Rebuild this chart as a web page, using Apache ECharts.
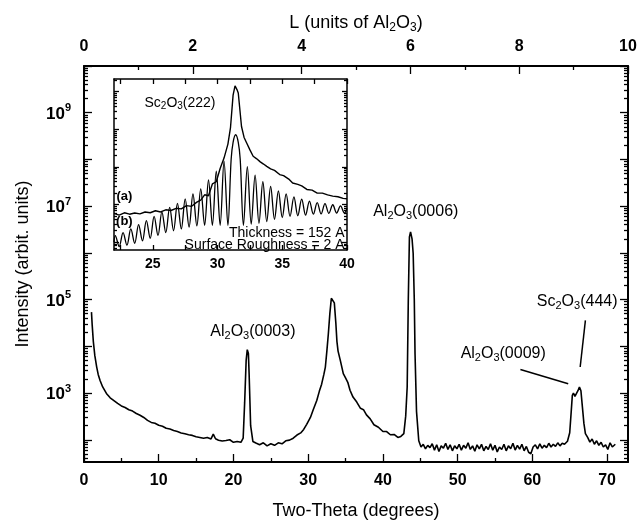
<!DOCTYPE html>
<html><head><meta charset="utf-8">
<script src="https://cdn.jsdelivr.net/npm/echarts@6/dist/echarts.min.js"></script>
<style>html,body{margin:0;padding:0;background:#fff}#c{width:642px;height:529px}</style>
</head><body><div id="c"></div>
<script>
// ---------- main scan ----------
const twoTheta = [
 1.0,1.1,1.25,1.45,1.7,1.9,2.15,2.5,3.0,3.5,
 4.0,4.5,5.0,5.5,6.0,6.5,7.0,7.5,8.0,8.5,
 9.0,9.5,10.0,10.5,11.0,11.5,12.0,12.5,13.0,13.5,
 14.0,14.5,15.0,15.5,16.0,16.5,17.0,17.3,17.6,18.0,
 18.5,19.0,19.5,20.0,20.5,21.0,
 21.3,21.5,21.7,21.85,22.0,22.1,22.3,22.6,23.0,23.5,
 24.0,24.5,25.0,25.5,26.0,26.5,27.0,27.5,28.0,28.5,
 29.0,29.4,29.8,30.3,30.7,31.15,31.5,31.8,32.1,32.3,
 32.5,32.7,32.9,33.1,33.3,33.5,33.7,33.85,34.0,34.3,
 34.7,35.0,35.3,35.6,36.0,36.5,37.0,37.4,37.8,38.3,
 38.8,39.4,40.0,40.5,41.0,41.5,42.0,42.4,42.8,43.05,
 43.25,43.4,43.55,43.7,43.9,44.05,44.2,44.3,44.5,44.8,
 45.1,45.4,45.7,46.0,46.3,46.6,46.9,47.2,47.5,47.8,
 48.1,48.4,48.7,49.0,49.3,49.6,49.9,50.2,50.5,50.8,
 51.1,51.4,51.7,52.0,52.3,52.6,52.9,53.2,53.5,53.8,
 54.1,54.4,54.7,55.0,55.3,55.6,55.9,56.2,56.5,56.8,
 57.1,57.4,57.7,58.0,58.3,58.6,58.9,59.2,59.5,59.8,
 60.1,60.4,60.7,61.0,61.3,61.6,61.9,62.2,62.5,62.8,
 63.1,63.4,63.7,64.0,64.3,64.7,
 65.0,65.2,65.35,65.5,65.7,65.9,66.1,66.3,66.5,66.7,
 66.9,67.1,67.4,67.7,68.0,68.3,68.6,68.9,69.2,69.5,
 69.8,70.1,70.4,70.7,71.1
];
const intensity = [
 54000,28000,12600,6300,3600,2500,1860,1350,980,790,
 690,600,530,490,440,410,365,335,300,260,
 235,225,205,195,176,170,158,150,140,134,
 128,124,116,112,108,112,104,132,105,98,
 94,96,100,88,92,88,
 108,630,5000,8500,7000,2500,200,92,85,78,
 86,74,82,76,86,82,95,98,108,126,
 140,166,214,300,450,690,1100,1550,2500,3600,
 7900,18600,50000,107000,112000,85000,32000,12600,7900,5000,
 2600,2100,1700,1150,820,640,470,440,340,280,
 210,185,150,150,128,130,112,118,135,320,
 1350,100000,2200000,2800000,2000000,980000,100000,6900,400,95,
 70,80,64,76,68,82,60,78,56,74,
 66,84,62,78,58,74,64,80,60,76,
 66,86,62,74,57,78,64,80,58,72,
 62,82,60,76,55,70,62,80,58,74,
 64,84,60,76,63,80,58,72,54,50,
 70,78,64,82,66,76,68,84,70,80,
 72,86,74,84,80,93,
 141,400,890,1000,850,780,1120,1350,1120,500,
 224,135,112,89,104,80,95,76,88,70,
 78,62,86,70,80
];

// ---------- inset: curve (a) measured ----------
const insetThetaA = [
 22.0,22.4,22.8,23.2,23.6,24.0,24.4,24.8,25.2,25.6,
 26.0,26.4,26.8,27.2,27.6,28.0,28.4,28.7,29.0,29.3,
 29.6,29.9,30.2,30.5,30.8,31.0,31.2,31.35,31.5,31.6,
 31.85,32.05,32.25,32.5,32.75,33.0,33.3,33.55,33.8,34.1,
 34.4,34.8,35.1,35.5,35.8,36.2,36.5,36.9,37.3,37.7,
 38.1,38.5,38.9,39.3,39.7,40.0
];
const insetIntA = [
 5.8,5.2,6.0,5.5,5.9,5.6,6.3,6.0,6.8,6.3,
 7.2,6.9,7.9,7.6,9.3,8.9,11.5,13,18,17,
 35,40,90,170,400,1100,8000,14100,11200,9100,
 1170,600,427,280,190,165,135,118,102,88,
 80,62,58,47,37,34,31,25,24,20,
 20,18,16.6,16,14.5,14.1
];

// ---------- inset: curve (b) simulation ----------
const insetThetaB = [
 22.0,22.1,22.4,22.7,23.0,23.3,23.6,23.9,24.2,24.5,
 24.8,25.1,25.4,25.7,26.0,26.3,26.6,26.9,27.2,27.5,
 27.8,28.1,28.4,28.7,29.0,29.3,29.6,29.9,30.2,30.5,
 30.8,31.05,31.2,31.4,31.6,31.75,32.0,32.3,32.6,32.9,
 33.2,33.5,33.8,34.1,34.4,34.7,35.0,35.3,35.6,35.9,
 36.2,36.5,36.8,37.1,37.4,37.7,38.0,38.3,38.6,38.9,
 39.2,39.5,39.8,40.0
];
const insetIntB = [
 1.0,1.48,0.76,1.78,0.83,2.24,0.93,2.9,1.07,3.7,
 1.26,4.8,1.5,6.3,1.78,8.3,2.0,10.7,2.24,14.1,
 2.5,19,2.7,26,2.8,45,2.8,76,2.8,141,
 2.8,158,447,708,447,158,2.8,100,3.0,60,
 3.16,40,3.5,30,4.0,23,4.5,19,4.8,15.8,
 5.0,13.8,5.2,12.3,5.5,11.2,5.6,10.5,5.8,9.8,
 5.9,9.1,5.9,7.9
];

// ---------- tick labels ----------
const xTickLabels = [0,10,20,30,40,50,60,70];
const xMinorTicks = [5,15,25,35,45,55,65];
const lTickLabels = [0,2,4,6,8,10];
const yLabelPowers = [3,5,7,9];
const yMajorPowers = [2,3,4,5,6,7,8,9,10];
const insetXLabels = [25,30,35,40];
const insetXTicks = [22.5,25,27.5,30,32.5,35,37.5,40];
const insetYMajorPowers = [0,1,2,3,4];

// annotations
const peakLabels = [
 {text:'Al{s|2}O{s|3}(0003)', x:22.6, y:2.1e4},
 {text:'Al{s|2}O{s|3}(0006)', x:44.4, y:7.8e6},
 {text:'Sc{s|2}O{s|3}(444)', x:66.0, y:9.2e4},
 {text:'Al{s|2}O{s|3}(0009)', x:56.1, y:7.1e3}
];
const arrows = [
 [[58.4,3200],[64.8,1580]],
 [[67.1,3.6e4],[66.4,3.6e3]]
];

const FF = 'Liberation Sans';
const black = '#000';

// main / inset intensity ranges (log axes); tick-only axes live in exponent space
const yMinMain = 33.4, yMaxMain = 1e10;
const yMinIn = 0.616, yMaxIn = 21400;
const eMinMain = Math.log10(yMinMain), eMaxMain = Math.log10(yMaxMain);
const eMinIn = Math.log10(yMinIn), eMaxIn = Math.log10(yMaxIn);
function minorExps(p0, p1, lo, hi){
  const out=[];
  for(let p=p0; p<p1; p++){ for(let k=2;k<=9;k++){ const e=p+Math.log10(k); if(e>lo && e<hi) out.push(e); } }
  return out;
}
const yMinorExps = minorExps(1,10,eMinMain,eMaxMain);
const insetMinorExps = minorExps(-1,5,eMinIn,eMaxIn);

const subRich = {s:{fontSize:11,lineHeight:11,verticalAlign:'bottom',fontFamily:FF,color:black}};

function tickAxis(base, ticks, len, showLine, lineW){
  return Object.assign({
    type:'value', splitLine:{show:false},
    axisLine:{show:showLine, onZero:false, lineStyle:{color:black,width:lineW||2}},
    axisTick:{show:true, inside:true, length:len, customValues:ticks, lineStyle:{color:black,width:1.3}},
    axisLabel:{show:false}
  }, base);
}

const chart = echarts.init(document.getElementById('c'), null, {renderer:'canvas'});
const option = {
  animation:false,
  backgroundColor:'#fff',
  grid:[
    {left:84, top:66, width:544, height:396, show:false},
    {left:114, top:79, width:233, height:171, show:true, backgroundColor:'#fff', borderWidth:0, z:5}
  ],
  xAxis:[
    Object.assign(tickAxis({gridIndex:0, position:'bottom', min:0, max:72.8}, xTickLabels, 8, true, 2), {
      axisLabel:{show:true, customValues:xTickLabels, fontSize:16, fontWeight:'bold', fontFamily:FF, color:black, margin:11},
      name:'Two-Theta (degrees)', nameLocation:'middle', nameGap:40,
      nameTextStyle:{fontSize:18, fontFamily:FF, color:black}
    }),
    tickAxis({gridIndex:0, position:'bottom', min:0, max:72.8}, xMinorTicks, 4, false),
    {
      type:'value', gridIndex:0, position:'top', min:0, max:10, interval:2,
      splitLine:{show:false},
      axisLine:{show:true, onZero:false, lineStyle:{color:black,width:2}},
      axisTick:{show:true, inside:true, length:8, lineStyle:{color:black,width:1.3}},
      minorTick:{show:true, splitNumber:2, length:4, lineStyle:{color:black,width:1.3}},
      axisLabel:{show:true, customValues:lTickLabels, fontSize:16, fontWeight:'bold', fontFamily:FF, color:black, margin:11},
      name:'L (units of Al{s|2}O{s|3})', nameLocation:'middle', nameGap:32,
      nameTextStyle:{fontSize:18, fontFamily:FF, color:black, lineHeight:22, rich:{s:{fontSize:12,lineHeight:12,verticalAlign:'bottom',fontFamily:FF,color:black}}}
    },
    Object.assign(tickAxis({gridIndex:1, position:'bottom', min:22, max:40}, insetXTicks, 5, true, 1.5), {
      axisLabel:{show:true, customValues:insetXLabels, fontSize:14, fontWeight:'bold', fontFamily:FF, color:black, margin:7},
      z:6
    }),
    Object.assign(tickAxis({gridIndex:1, position:'top', min:22, max:40}, insetXTicks, 5, true, 1.5), {z:6})
  ],
  yAxis:[
    {type:'log', logBase:10, gridIndex:0, position:'left', min:yMinMain, max:yMaxMain,
     splitLine:{show:false}, axisLine:{show:true, onZero:false, lineStyle:{color:black,width:2}},
     axisTick:{show:false}, axisLabel:{show:false},
     name:'Intensity (arbit. units)', nameLocation:'middle', nameGap:52,
     nameTextStyle:{fontSize:18, fontFamily:FF, color:black}},
    Object.assign(tickAxis({gridIndex:0, position:'left', min:eMinMain, max:eMaxMain}, yMajorPowers, 8, false), {
      axisLabel:{show:true, customValues:yLabelPowers, margin:13,
        formatter:function(v){ return '{b|10}{p|' + Math.round(v) + '}'; },
        rich:{
          b:{fontSize:17, fontWeight:'bold', fontFamily:FF, color:black, lineHeight:20, verticalAlign:'bottom'},
          p:{fontSize:11, fontWeight:'bold', fontFamily:FF, color:black, lineHeight:6, verticalAlign:'top'}
        }}
    }),
    tickAxis({gridIndex:0, position:'left', min:eMinMain, max:eMaxMain}, yMinorExps, 4, false),
    tickAxis({gridIndex:0, position:'right', min:eMinMain, max:eMaxMain}, yMajorPowers, 8, true, 2),
    tickAxis({gridIndex:0, position:'right', min:eMinMain, max:eMaxMain}, yMinorExps, 4, false),
    {type:'log', logBase:10, gridIndex:1, position:'left', min:yMinIn, max:yMaxIn, z:6,
     splitLine:{show:false}, axisLine:{show:true, onZero:false, lineStyle:{color:black,width:1.5}},
     axisTick:{show:false}, axisLabel:{show:false}},
    Object.assign(tickAxis({gridIndex:1, position:'left', min:eMinIn, max:eMaxIn}, insetYMajorPowers, 5, false), {z:6}),
    Object.assign(tickAxis({gridIndex:1, position:'left', min:eMinIn, max:eMaxIn}, insetMinorExps, 3, false), {z:6}),
    Object.assign(tickAxis({gridIndex:1, position:'right', min:eMinIn, max:eMaxIn}, insetYMajorPowers, 5, true, 1.5), {z:6}),
    Object.assign(tickAxis({gridIndex:1, position:'right', min:eMinIn, max:eMaxIn}, insetMinorExps, 3, false), {z:6})
  ],
  series:[
    {
      type:'line', xAxisIndex:0, yAxisIndex:0, showSymbol:false, symbol:'none',
      data: twoTheta.map((x,i)=>[x, intensity[i]]),
      lineStyle:{color:black, width:1.6},
      markPoint:{
        symbol:'circle', symbolSize:1, itemStyle:{color:'rgba(0,0,0,0)'}, silent:true,
        label:{show:true, position:'inside', fontSize:16, fontFamily:FF, color:black, lineHeight:20, rich:subRich},
        data: peakLabels.map(p=>({coord:[p.x,p.y], label:{formatter:p.text}}))
      },
      markLine:{
        silent:true, symbol:['none','arrow'], symbolSize:[0,9],
        lineStyle:{color:black, width:1.5, type:'solid'}, label:{show:false},
        data: arrows.map(a=>[{coord:a[0]},{coord:a[1]}])
      }
    },
    {
      type:'line', xAxisIndex:3, yAxisIndex:5, showSymbol:false, symbol:'none', z:7,
      data: insetThetaA.map((x,i)=>[x, insetIntA[i]]),
      lineStyle:{color:black, width:1.4},
      markPoint:{
        symbol:'circle', symbolSize:1, itemStyle:{color:'rgba(0,0,0,0)'}, silent:true,
        label:{show:true, position:'inside', fontSize:14, fontFamily:FF, color:black, lineHeight:17,
          rich:{s:{fontSize:10,lineHeight:10,verticalAlign:'bottom',fontFamily:FF,color:black}}},
        data:[
          {coord:[27.1,5000], label:{formatter:'Sc{s|2}O{s|3}(222)'}},
          {coord:[22.8,16], label:{formatter:'(a)', fontWeight:'bold', fontSize:13}},
          {coord:[22.8,3.5], label:{formatter:'(b)', fontWeight:'bold', fontSize:13}},
          {coord:[39.85,1.7], label:{formatter:'Thickness = 152 A', position:'left', distance:0, fontSize:14}},
          {coord:[39.85,0.85], label:{formatter:'Surface Roughness = 2 A', position:'left', distance:0, fontSize:14}}
        ]
      }
    },
    {
      type:'line', xAxisIndex:3, yAxisIndex:5, showSymbol:false, symbol:'none', z:7, smooth:0.35,
      data: insetThetaB.map((x,i)=>[x, insetIntB[i]]),
      lineStyle:{color:black, width:1.3}
    }
  ]
};
chart.setOption(option);
</script>
</body></html>
